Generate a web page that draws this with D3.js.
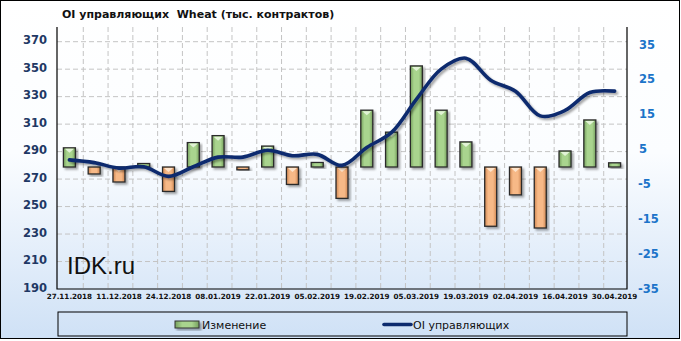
<!DOCTYPE html>
<html lang="ru">
<head>
    <meta charset="UTF-8">
    <script src="https://d3js.org/d3.v7.min.js"></script>
    <title>OI управляющих Wheat</title>
    <style>
        body { margin: 0; }
        .grid line { stroke: #c4c4c4; stroke-width: 1; stroke-dasharray: 5,3; }
        .laxis text { fill: #1f3864; font: bold 11.5px "DejaVu Sans"; }
        .raxis text { fill: #1c74c9; font: bold 11.5px "DejaVu Sans"; }
        .xaxis text { fill: #111; font: bold 7.2px "DejaVu Sans"; }
        .legend text { fill: #111; font: 11px "DejaVu Sans"; }
    </style>
</head>
<body>
<svg id="chart" width="681" height="341"></svg>
<script>
    // weekly dates (every other one is labelled)
    const dates = ["27.11.2018","04.12.2018","11.12.2018","18.12.2018","24.12.2018","31.12.2018",
        "08.01.2019","15.01.2019","22.01.2019","29.01.2019","05.02.2019","12.02.2019",
        "19.02.2019","26.02.2019","05.03.2019","12.03.2019","19.03.2019","26.03.2019",
        "02.04.2019","09.04.2019","16.04.2019","23.04.2019","30.04.2019"];
    // weekly change, right axis
    const change = [5.5, -2, -4.3, 1, -7, 7, 9, -0.8, 6, -5, 1.3, -9,
        16.3, 10, 29, 16.3, 7.2, -17, -8, -17.5, 4.6, 13.5, 1.2];
    // managed money open interest, left axis
    const oi = [284, 282, 278, 279, 272, 279, 286, 286, 291, 287, 288, 280,
        293, 304, 328, 350, 358, 342, 334, 316, 320, 333, 334];
    const leftTicks = [190, 210, 230, 250, 270, 290, 310, 330, 350, 370];
    const rightTicks = [35, 25, 15, 5, -5, -15, -25, -35];

    const svg = d3.select("#chart");
    const L = 57, R = 627, T = 27, B = 289;

    const defs = svg.append("defs");
    const bg = defs.append("linearGradient").attr("id", "bg").attr("x1", 0).attr("x2", 0).attr("y1", 0).attr("y2", 1);
    bg.append("stop").attr("offset", "0%").attr("stop-color", "#ffffff");
    bg.append("stop").attr("offset", "45%").attr("stop-color", "#fbfdff");
    bg.append("stop").attr("offset", "100%").attr("stop-color", "#cfe1f6");

    function barGrad(id, edge, mid) {
        const g = defs.append("linearGradient").attr("id", id).attr("x1", 0).attr("x2", 1).attr("y1", 0).attr("y2", 0);
        g.append("stop").attr("offset", "0%").attr("stop-color", edge);
        g.append("stop").attr("offset", "30%").attr("stop-color", mid);
        g.append("stop").attr("offset", "70%").attr("stop-color", mid);
        g.append("stop").attr("offset", "100%").attr("stop-color", edge);
    }
    barGrad("gUp", "#76a05d", "#a9d48e");
    barGrad("gDn", "#cf8752", "#f7b987");

    const sh = defs.append("filter").attr("id", "sh").attr("x", "-30%").attr("y", "-30%").attr("width", "160%").attr("height", "160%");
    sh.append("feDropShadow").attr("dx", 2).attr("dy", 2).attr("stdDeviation", 1.3).attr("flood-color", "#000").attr("flood-opacity", 0.35);

    svg.append("rect").attr("x", 0.5).attr("y", 0.5).attr("width", 679).attr("height", 338)
        .attr("fill", "url(#bg)").attr("stroke", "#000");

    const x = d3.scaleBand().domain(dates).range([L, R]);
    const yL = d3.scaleLinear().domain([190, 370]).range([B, 41.7]);
    const yR = d3.scaleLinear().domain([-35, 35]).range([B, 45]);
    const cx = i => x(dates[i]) + x.bandwidth() / 2;

    // grid
    const grid = svg.append("g").attr("class", "grid");
    grid.selectAll("line.h").data(leftTicks.slice(1)).enter().append("line")
        .attr("x1", L).attr("x2", R).attr("y1", d => yL(d)).attr("y2", d => yL(d));
    grid.selectAll("line.v").data(dates.slice(1)).enter().append("line")
        .attr("x1", d => x(d) + 1.5).attr("x2", d => x(d) + 1.5).attr("y1", T).attr("y2", B);

    // frame
    svg.append("path").attr("d", `M${L},${T}V${B}H${R}V${T}`).attr("fill", "none").attr("stroke", "#000").attr("stroke-width", 1.2);

    // axes
    svg.append("g").attr("class", "laxis").selectAll("text").data(leftTicks).enter().append("text")
        .attr("x", 47).attr("y", d => yL(d) - 1).attr("text-anchor", "end").attr("dominant-baseline", "middle").text(d => d);
    svg.append("g").attr("class", "raxis").selectAll("text").data(rightTicks).enter().append("text")
        .attr("x", d => d < 0 ? 638 : 639).attr("y", d => yR(d)).attr("dominant-baseline", "middle").text(d => d < 0 ? "-" + Math.abs(d) : d);
    svg.append("g").attr("class", "xaxis").selectAll("text").data(dates.filter((d, i) => i % 2 == 0)).enter().append("text")
        .attr("x", d => x(d) + x.bandwidth() / 2).attr("y", 299).attr("text-anchor", "middle").text(d => d);

    // watermark
    svg.append("text").attr("x", 67).attr("y", 274).style("font", "24px 'Liberation Sans'").attr("fill", "#111").text("IDK.ru");

    // bars
    const bw = 12;
    const bars = svg.append("g").selectAll("g").data(change.map((v, i) => ({ v: v, i: i }))).enter()
        .append("g").attr("filter", "url(#sh)");
    bars.append("rect")
        .attr("x", d => cx(d.i) - bw / 2)
        .attr("y", d => Math.min(yR(d.v), yR(0)))
        .attr("width", bw)
        .attr("height", d => Math.max(2, Math.abs(yR(d.v) - yR(0))))
        .attr("fill", d => d.v >= 0 ? "url(#gUp)" : "url(#gDn)")
        .attr("stroke", "#2a2a2a").attr("stroke-width", 1.3);
    bars.filter(d => Math.abs(d.v) > 3).append("path")
        .attr("d", d => {
            const c = cx(d.i), ty = Math.min(yR(d.v), yR(0)) + 1;
            return `M${c - 4.5},${ty}L${c + 4.5},${ty}L${c},${ty + 4}Z`;
        })
        .attr("fill", d => d.v >= 0 ? "#e2f3d6" : "#fde4cc");

    // line
    const line = d3.line().x((d, i) => cx(i)).y(d => yL(d)).curve(d3.curveCatmullRom.alpha(0.5));
    svg.append("path").datum(oi).attr("d", line).attr("fill", "none")
        .attr("stroke", "#0d2b6e").attr("stroke-width", 3.6).attr("stroke-linecap", "round").attr("filter", "url(#sh)");

    // title
    svg.append("text").attr("x", 62).attr("y", 18).style("font", "bold 11px 'DejaVu Sans'").style("white-space", "pre")
        .attr("fill", "#111").text("OI управляющих  Wheat (тыс. контрактов)");

    // legend
    const lg = svg.append("g").attr("class", "legend");
    lg.append("rect").attr("x", 58).attr("y", 312).attr("width", 569).attr("height", 24).attr("fill", "none").attr("stroke", "#000");
    lg.append("rect").attr("x", 175).attr("y", 321).attr("width", 24).attr("height", 7)
        .attr("fill", "url(#gUp)").attr("stroke", "#333").attr("filter", "url(#sh)");
    lg.append("text").attr("x", 202).attr("y", 328.5).text("Изменение");
    lg.append("line").attr("x1", 384).attr("x2", 411).attr("y1", 324.5).attr("y2", 324.5)
        .attr("stroke", "#0d2b6e").attr("stroke-width", 3.6).attr("stroke-linecap", "round");
    lg.append("text").attr("x", 413).attr("y", 328.5).text("OI управляющих");
</script>
</body>
</html>
